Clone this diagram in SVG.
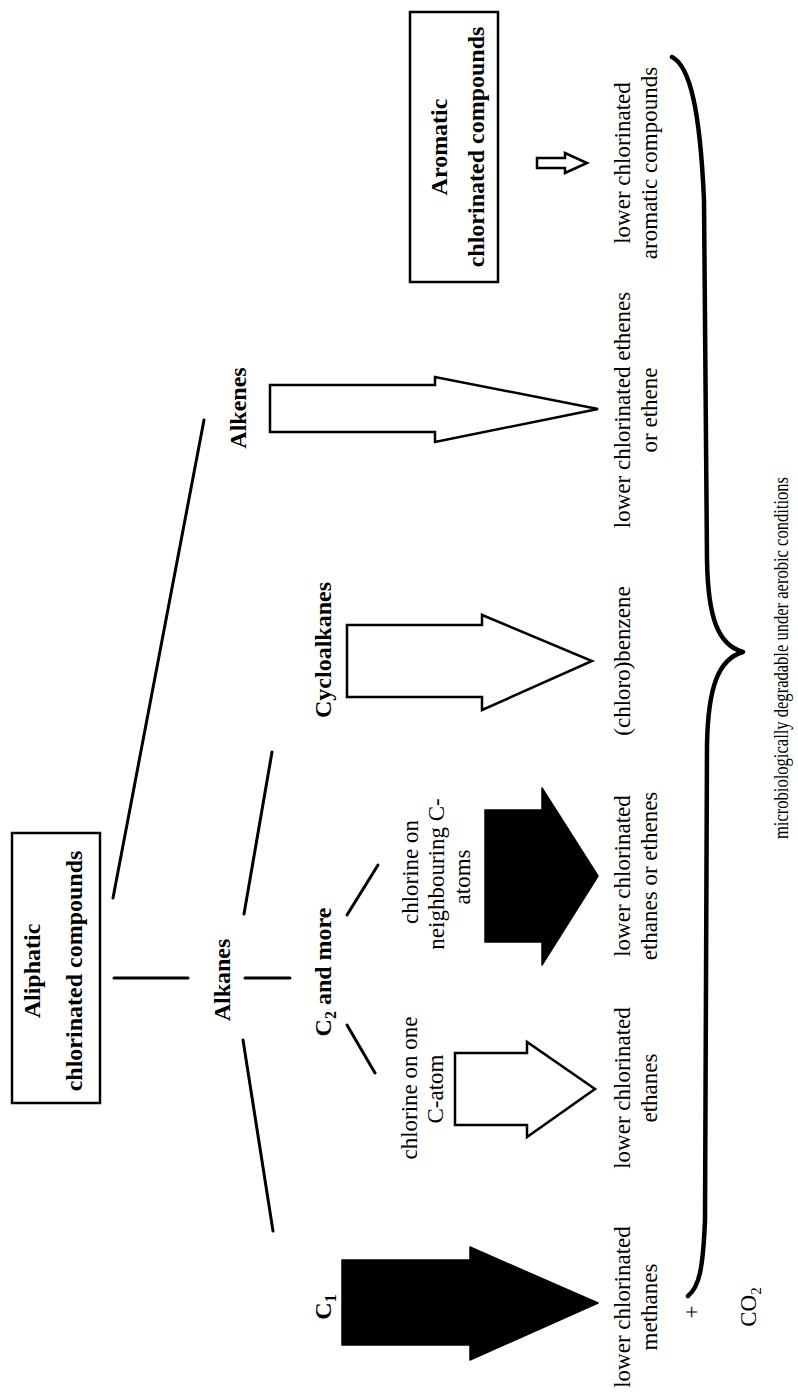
<svg xmlns="http://www.w3.org/2000/svg" width="798" height="1394" viewBox="0 0 798 1394">
  <style>
    text { font-family: "Liberation Serif", "Times New Roman", serif; text-anchor: middle; fill: #000; }
    .b { font-size: 24px; font-weight: bold; }
    .r { font-size: 23px; }
    .s { font-size: 21px; }
    .box { fill: #fff; stroke: #000; stroke-width: 2.5; }
    .open { fill: #fff; stroke: #000; stroke-width: 2.5; stroke-linejoin: miter; }
    .solid { fill: #000; stroke: #000; stroke-width: 1.5; stroke-linejoin: round; }
    .link { stroke: #000; stroke-width: 3; fill: none; stroke-linecap: round; }
    .brace { stroke: #000; stroke-width: 4.5; fill: none; stroke-linecap: round; stroke-linejoin: round; }
  </style>
  <rect width="798" height="1394" fill="#fff"/>

  <!-- tree connectors -->
  <g id="connectors">
    <line class="link" x1="114" y1="978" x2="188" y2="978"/>
    <line class="link" x1="245" y1="978" x2="290" y2="978"/>
    <line class="link" x1="113" y1="898" x2="204" y2="420"/>
    <line class="link" x1="244" y1="914" x2="272" y2="752"/>
    <line class="link" x1="243" y1="1040" x2="273" y2="1231"/>
    <line class="link" x1="347" y1="1025" x2="375" y2="1073"/>
    <line class="link" x1="347" y1="915" x2="378" y2="865"/>
  </g>

  <g id="aliphatic">
    <rect class="box" x="12" y="833" width="88" height="270"/>
    <text class="b" transform="translate(40,971) rotate(-90)">Aliphatic</text>
    <text class="b" transform="translate(82,971) rotate(-90)">chlorinated compounds</text>
  </g>

  <g id="alkanes">
    <text class="b" transform="translate(230,980) rotate(-90)">Alkanes</text>
  </g>

  <g id="alkenes">
    <text class="b" transform="translate(246,408) rotate(-90)">Alkenes</text>
  </g>

  <g id="c2-and-more">
    <text class="b" transform="translate(331,972) rotate(-90)">C<tspan font-size="16" dy="5">2</tspan><tspan dy="-5"> and more</tspan></text>
  </g>

  <g id="cycloalkanes">
    <text class="b" transform="translate(331,650) rotate(-90)">Cycloalkanes</text>
  </g>

  <g id="c1">
    <text class="b" transform="translate(331,1307) rotate(-90)">C<tspan font-size="16" dy="5">1</tspan></text>
  </g>

  <g id="one-atom">
    <text class="r" transform="translate(417,1088) rotate(-90)">chlorine on one</text>
    <text class="r" transform="translate(443,1089) rotate(-90)">C-atom</text>
  </g>

  <g id="neighbouring-atoms">
    <text class="r" transform="translate(418,872) rotate(-90)">chlorine on</text>
    <text class="r" transform="translate(444,874) rotate(-90)">neighbouring C-</text>
    <text class="r" transform="translate(470,877) rotate(-90)">atoms</text>
  </g>

  <g id="aromatic">
    <rect class="box" x="410" y="12" width="88" height="270"/>
    <text class="b" transform="translate(447,147) rotate(-90)">Aromatic</text>
    <text class="b" transform="translate(484,147) rotate(-90)">chlorinated compounds</text>
  </g>

  <!-- degradation arrows -->
  <g id="arrows">
    <polygon class="solid" points="342,1260 470,1260 470,1247 598,1303 470,1360 470,1345 342,1345"/>
    <polygon class="open" points="455,1053 527,1053 527,1042 595,1089 527,1137 527,1125 455,1125"/>
    <polygon class="solid" points="485,810 542,810 542,788 598,876 542,965 542,942 485,942"/>
    <polygon class="open" points="347,625 482,625 482,615 592,661 482,710 482,697 347,697"/>
    <polygon class="open" points="270,385 435,385 435,377 598,409 435,442 435,432 270,432"/>
    <polygon class="open" points="537,158 565,158 565,153 587,163 565,173 565,168 537,168"/>
  </g>

  <g id="methanes">
    <text class="r" transform="translate(630,1307) rotate(-90)">lower chlorinated</text>
    <text class="r" transform="translate(657,1307) rotate(-90)">methanes</text>
  </g>
  <g id="ethanes">
    <text class="r" transform="translate(630,1088) rotate(-90)">lower chlorinated</text>
    <text class="r" transform="translate(657,1088) rotate(-90)">ethanes</text>
  </g>
  <g id="ethanes-ethenes">
    <text class="r" transform="translate(630,876) rotate(-90)">lower chlorinated</text>
    <text class="r" transform="translate(657,876) rotate(-90)">ethanes or ethenes</text>
  </g>
  <g id="benzene">
    <text class="r" transform="translate(630,661) rotate(-90)">(chloro)benzene</text>
  </g>
  <g id="ethenes">
    <text class="r" transform="translate(630,410) rotate(-90)">lower chlorinated ethenes</text>
    <text class="r" transform="translate(657,410) rotate(-90)">or ethene</text>
  </g>
  <g id="aromatic-products">
    <text class="r" transform="translate(630,163) rotate(-90)">lower chlorinated</text>
    <text class="r" transform="translate(657,163) rotate(-90)">aromatic compounds</text>
  </g>

  <g id="co2">
    <text class="r" transform="translate(699,1312) rotate(-90)">+</text>
    <text class="r" transform="translate(756,1307) rotate(-90)">CO<tspan font-size="15" dy="5">2</tspan></text>
  </g>

  <g id="brace-group">
    <path class="brace" d="M672,57 C690,66 700,110 704,200 L707,560 C708,618 718,645 743,652 C718,659 708,688 707,745 L705,1220 C703,1270 699,1287 688,1296"/>
    <text class="s" transform="translate(788,658) rotate(-90)" textLength="362" lengthAdjust="spacingAndGlyphs">microbiologically degradable under aerobic conditions</text>
  </g>
</svg>
